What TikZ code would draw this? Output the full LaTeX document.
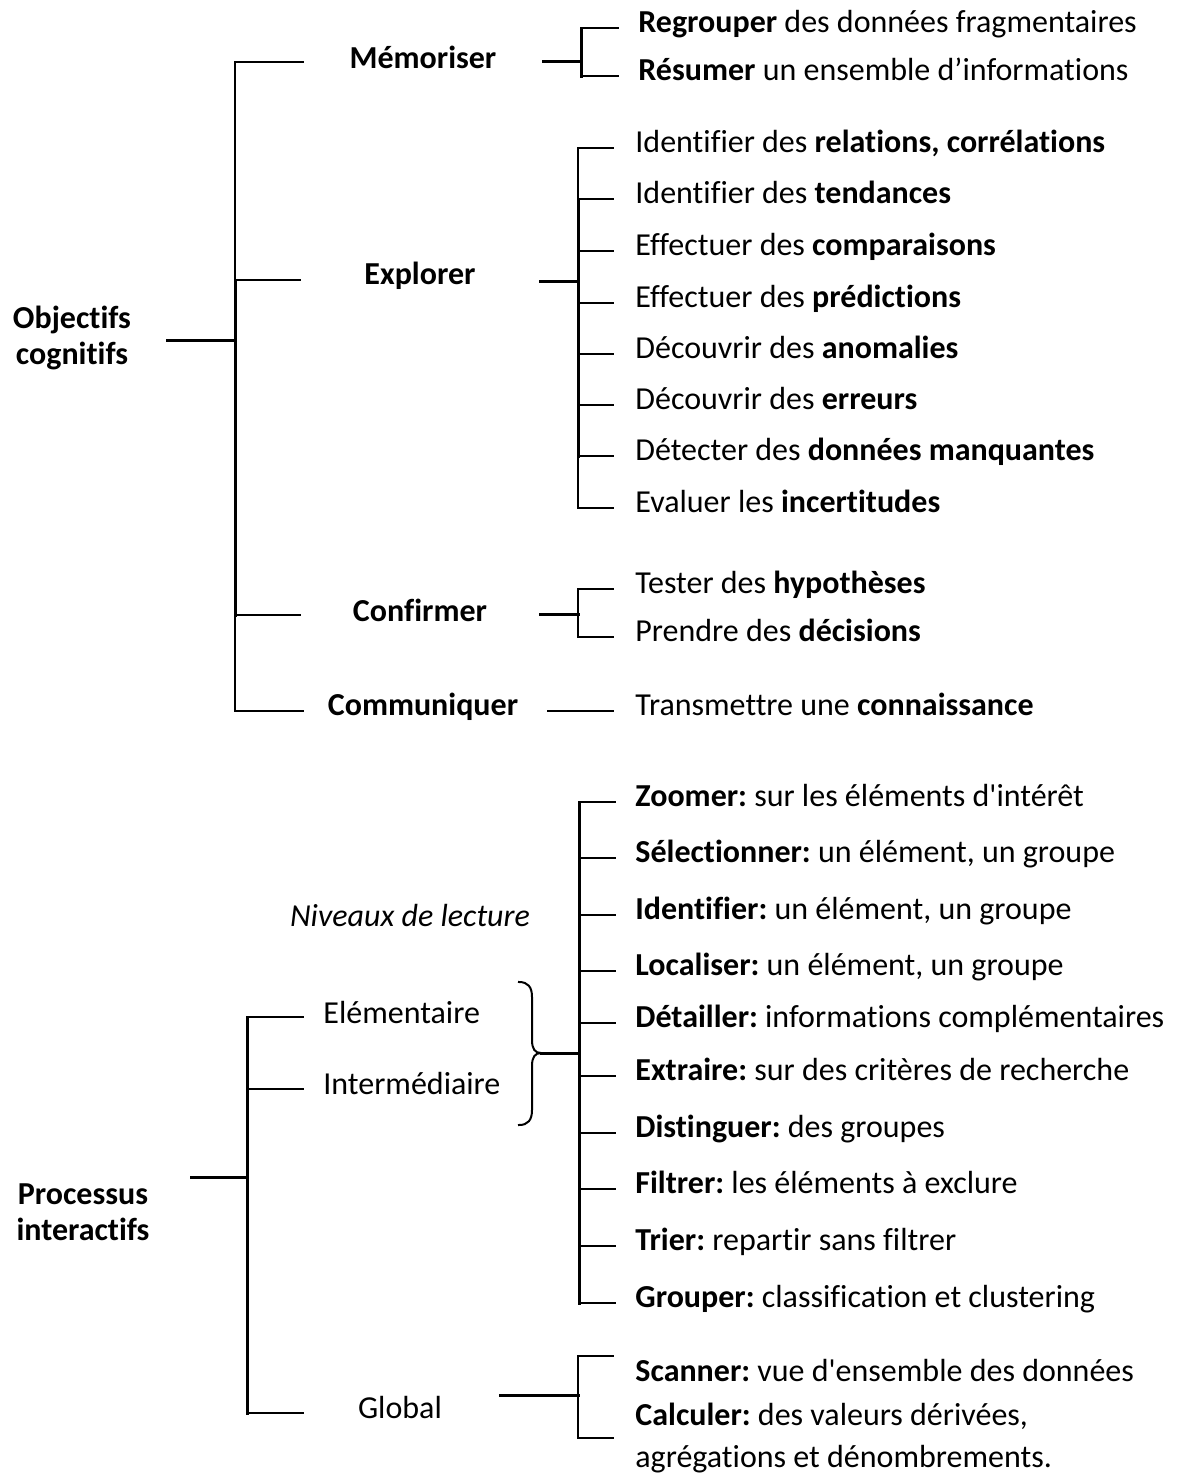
\documentclass[tikz,border=0pt]{standalone}
\usepackage{fontspec}
\setmainfont{Carlito}[Ligatures={TeXOff,NoCommon}]
\newcommand\txtsize{\fontsize{16}{18}\selectfont}
\frenchspacing
\tikzset{
  x=0.5pt, y=-0.5pt,
  twig/.style={line width=1pt, line cap=rect},
  trunk/.style={line width=1.5pt, line cap=rect},
  lbl/.style={font=\txtsize\bfseries, inner sep=0pt},
  plain/.style={font=\txtsize, inner sep=0pt},
  leaf/.style={font=\txtsize, inner sep=0pt, anchor=mid west},
}
\begin{document}
\begin{tikzpicture}
\useasboundingbox (0,0) rectangle (1179,1474);

% ---------------- Objectifs cognitifs ----------------
\node[lbl, align=center] (obj) at (72,338) {Objectifs\\cognitifs};
\node[lbl] (mem)  at (423,57)  {Mémoriser};
\node[lbl] (expl) at (420,276) {Explorer};
\node[lbl] (conf) at (420,610) {Confirmer};
\node[lbl] (comm) at (423,707) {Communiquer};

\coordinate (oA) at (167,340);
\coordinate (oJ) at (235,340);
\coordinate (oT) at (235,62);
\coordinate (oE) at (235,280);
\coordinate (oC) at (235,615);
\coordinate (oB) at (235,711);
\draw[trunk] (oA) -- (oJ);
\draw[twig] (oT) -- (oB);
\draw[trunk] (oE) -- (oC);
\draw[twig] (oT) -- (303,62);
\draw[twig] (oE) -- (300,280);
\draw[twig] (oC) -- (300,615);
\draw[twig] (oB) -- (303,711);

% Mémoriser
\node[leaf] (r1) at (638,28) {\textbf{Regrouper} des données fragmentaires};
\node[leaf] (r2) at (638,76) {\textbf{Résumer} un ensemble d’informations};
\coordinate (mJ) at (581,61);
\draw[trunk] (543,61) -- (mJ);
\draw[trunk] (mJ |- r1.mid west) -- (mJ |- r2.mid west);
\foreach \n in {r1,r2} \draw[twig] (mJ |- \n.mid west) -- ([xshift=-10pt]\n.mid west);

% Explorer
\node[leaf] (e1) at (635,148) {Identifier des \textbf{relations, corrélations}};
\node[leaf] (e2) at (635,199) {Identifier des \textbf{tendances}};
\node[leaf] (e3) at (635,251) {Effectuer des \textbf{comparaisons}};
\node[leaf] (e4) at (635,303) {Effectuer des \textbf{prédictions}};
\node[leaf] (e5) at (635,354) {Découvrir des \textbf{anomalies}};
\node[leaf] (e6) at (635,405) {Découvrir des \textbf{erreurs}};
\node[leaf] (e7) at (635,456) {Détecter des \textbf{données manquantes}};
\node[leaf] (e8) at (635,508) {Evaluer les \textbf{incertitudes}};
\coordinate (eJ) at (578,281);
\draw[trunk] (540,281) -- (eJ);
\draw[twig] (eJ |- e1.mid west) -- (eJ |- e8.mid west);
\draw[trunk] (eJ |- e2.mid west) -- (eJ |- e7.mid west);
\foreach \n in {e1,e2,e3,e4,e5,e6,e7,e8} \draw[twig] (eJ |- \n.mid west) -- ([xshift=-11pt]\n.mid west);

% Confirmer
\node[leaf] (t1) at (635,589) {Tester des \textbf{hypothèses}};
\node[leaf] (t2) at (635,637) {Prendre des \textbf{décisions}};
\coordinate (cJ) at (578,614);
\draw[trunk] (540,614) -- (cJ);
\draw[twig] (cJ |- t1.mid west) -- (cJ |- t2.mid west);
\foreach \n in {t1,t2} \draw[twig] (cJ |- \n.mid west) -- ([xshift=-11pt]\n.mid west);

% Communiquer
\node[leaf] (k1) at (635,711) {Transmettre une \textbf{connaissance}};
\draw[twig] (548,711) -- ([xshift=-11pt]k1.mid west);

% ---------------- Processus interactifs ----------------
\node[lbl, align=center] (proc) at (83,1212) {Processus\\interactifs};
\node[plain, font=\txtsize\itshape] (niv) at (410,915) {Niveaux de lecture};
\node[plain, anchor=west] (elem) at (323,1012) {Elémentaire};
\node[plain, anchor=west] (inter) at (323,1083) {Intermédiaire};
\node[plain] (glob) at (400,1407) {Global};

\coordinate (pA) at (191,1177);
\coordinate (pJ) at (247,1177);
\coordinate (pT) at (247,1017);
\coordinate (pM) at (247,1089);
\coordinate (pB) at (247,1413);
\draw[trunk] (pA) -- (pJ);
\draw[trunk] (pT) -- (pB);
\draw[twig] (pT) -- (303,1017);
\draw[twig] (pM) -- (303,1089);
\draw[twig] (pB) -- (303,1413);

% brace grouping the first two levels
\coordinate (bTip) at (541,1053);
\draw[twig] (519,982) .. controls (528,982) and (532,987) .. (532,997)
  -- (532,1040) .. controls (532,1049) and (535,1053) .. (bTip)
  .. controls (535,1053) and (532,1057) .. (532,1066)
  -- (532,1110) .. controls (532,1120) and (528,1125) .. (519,1125);

\node[leaf] (z1)  at (635,802)  {\textbf{Zoomer:} sur les éléments d'intérêt};
\node[leaf] (z2)  at (635,858)  {\textbf{Sélectionner:} un élément, un groupe};
\node[leaf] (z3)  at (635,915)  {\textbf{Identifier:} un élément, un groupe};
\node[leaf] (z4)  at (635,971)  {\textbf{Localiser:} un élément, un groupe};
\node[leaf] (z5)  at (635,1023) {\textbf{Détailler:} informations complémentaires};
\node[leaf] (z6)  at (635,1076) {\textbf{Extraire:} sur des critères de recherche};
\node[leaf] (z7)  at (635,1133) {\textbf{Distinguer:} des groupes};
\node[leaf] (z8)  at (635,1189) {\textbf{Filtrer:} les éléments à exclure};
\node[leaf] (z9)  at (635,1246) {\textbf{Trier:} repartir sans filtrer};
\node[leaf] (z10) at (635,1303) {\textbf{Grouper:} classification et clustering};
\coordinate (zJ) at (579,1053);
\draw[trunk] (bTip) -- (zJ);
\draw[trunk] (zJ |- z1.mid west) -- (zJ |- z10.mid west);
\foreach \n in {z1,z2,z3,z4,z5,z6,z7,z8,z9,z10} \draw[twig] (zJ |- \n.mid west) -- ([xshift=-10pt]\n.mid west);

% Global
\node[plain, anchor=base west] (s1) at (635,1381) {\textbf{Scanner:} vue d'ensemble des données};
\node[plain, anchor=base west] (c1) at (635,1425) {\textbf{Calculer:} des valeurs dérivées,};
\node[plain, anchor=base west] (c2) at (635,1467) {agrégations et dénombrements.};
\coordinate (gJ) at (578,1395);
\coordinate (gT) at (578,1356);
\coordinate (gB) at (578,1438);
\draw[trunk] (500,1395) -- (gJ);
\draw[twig] (gT) -- (gB);
\draw[twig] (gT) -- (613,1356);
\draw[twig] (gB) -- (613,1438);
\end{tikzpicture}
\end{document}
